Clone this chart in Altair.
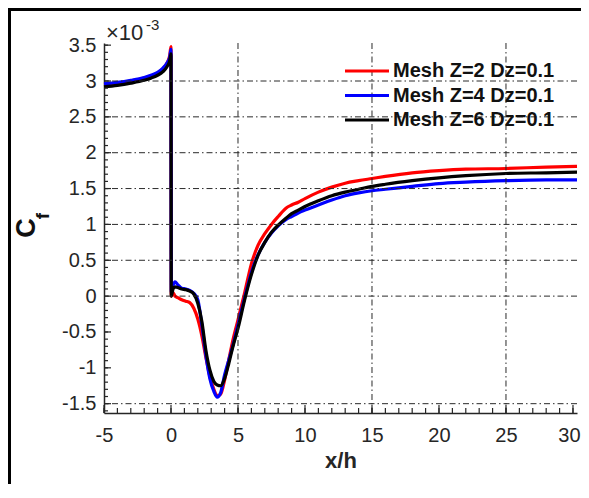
import altair as alt
import pandas as pd
import numpy as np

# ---------------- data (Cf values in units of 1e-3) ----------------
x_pos = [-5, -4, -3, -2, -1.5, -1, -0.6, -0.3, -0.1, 0.0, 0.02, 0.15, 0.3, 0.5, 0.8, 1.1, 1.4, 1.7,
         2.0, 2.3, 2.6, 2.9, 3.2, 3.45, 3.7, 4.0, 4.3, 4.6, 5.0, 5.5, 6.0, 6.5, 7.0, 7.5, 8.0, 8.6,
         9.0, 9.5, 10, 11, 12, 13, 14, 15, 16, 18, 20, 22, 25, 28, 30.3]

cf_z2 = [2.95, 2.97, 3.00, 3.04, 3.07, 3.11, 3.17, 3.25, 3.35, 3.48, 0.00, 0.05, 0.00, -0.02, -0.05,
         -0.07, -0.09, -0.17, -0.32, -0.55, -0.85, -1.12, -1.30, -1.39, -1.37, -1.17, -0.90, -0.63,
         -0.33, 0.05, 0.45, 0.71, 0.87, 1.00, 1.11, 1.23, 1.27, 1.31, 1.36, 1.45, 1.52, 1.575, 1.61,
         1.64, 1.67, 1.72, 1.75, 1.77, 1.78, 1.80, 1.81]

cf_z4 = [2.96, 2.98, 3.01, 3.05, 3.08, 3.12, 3.18, 3.25, 3.33, 3.44, 0.05, 0.15, 0.20, 0.16, 0.11,
         0.10, 0.08, 0.04, -0.05, -0.40, -0.82, -1.15, -1.33, -1.41, -1.35, -1.10, -0.90, -0.70,
         -0.40, -0.02, 0.33, 0.58, 0.75, 0.88, 0.98, 1.07, 1.11, 1.16, 1.20, 1.27, 1.34, 1.40, 1.44,
         1.47, 1.49, 1.53, 1.57, 1.59, 1.61, 1.62, 1.62]

cf_z6 = [2.92, 2.94, 2.97, 3.01, 3.04, 3.08, 3.13, 3.20, 3.28, 3.38, 0.00, 0.10, 0.13, 0.12, 0.10,
         0.09, 0.07, 0.03, -0.10, -0.35, -0.75, -1.03, -1.19, -1.24, -1.25, -1.15, -0.95, -0.72,
         -0.45, -0.05, 0.30, 0.57, 0.75, 0.89, 0.99, 1.09, 1.15, 1.20, 1.25, 1.33, 1.40, 1.45, 1.49,
         1.53, 1.56, 1.61, 1.65, 1.68, 1.71, 1.72, 1.73]

series_names = ["Mesh Z=2 Dz=0.1", "Mesh Z=4 Dz=0.1", "Mesh Z=6 Dz=0.1"]
series_colors = ["#ff0000", "#0000ff", "#000000"]

x_tick_labels = [-5, 0, 5, 10, 15, 20, 25, 30]
y_tick_labels = [-1.5, -1, -0.5, 0, 0.5, 1, 1.5, 2, 2.5, 3, 3.5]
x_minor = list(range(-5, 31))
y_minor = [round(v, 1) for v in np.arange(-1.6, 3.55, 0.1)]
x_grid = [5, 15, 25]
y_grid = [-1.5, 0, 0.5, 1, 1.5, 2, 2.5, 3]

# ---------------- layout ----------------
W, H = 473, 370
FONT = "Liberation Sans"
AX = "#262626"

xs = alt.Scale(domain=[-5, 30.3], nice=False, zero=False)
ys = alt.Scale(domain=[-1.63, 3.53], nice=False, zero=False)

x_axis = alt.Axis(values=x_tick_labels, title="x/h", labelExpr="datum.value + ''",
                  labelFont=FONT, labelFontSize=20, labelColor=AX, labelFlush=False,
                  labelOffset={"condition": {"test": "datum.value == 30", "value": -4}, "value": 0},
                  ticks=False, tickSize=0, labelPadding=12, grid=False,
                  domainColor=AX, domainWidth=1.5,
                  titleFont=FONT, titleFontSize=22, titleFontWeight="bold",
                  titleColor=AX, titlePadding=5)
y_axis = alt.Axis(values=y_tick_labels, title=None, labelExpr="datum.value + ''",
                  labelFont=FONT, labelFontSize=20, labelColor=AX, labelFlush=False,
                  ticks=False, tickSize=0, labelPadding=8, grid=False,
                  domainColor=AX, domainWidth=1.5)

rows = []
for name, vals in zip(series_names, [cf_z2, cf_z4, cf_z6]):
    for i, (xv, yv) in enumerate(zip(x_pos, vals)):
        rows.append({"series": name, "x": xv, "cf": yv, "idx": i})
df = pd.DataFrame(rows)

base = alt.Chart(df)

line_layers = []
for name, col in zip(series_names, series_colors):
    line_layers.append(
        base.transform_filter(alt.datum.series == name)
        .mark_line(color=col, strokeWidth=3.2, interpolate="monotone")
        .encode(x=alt.X("x:Q", scale=xs, axis=x_axis),
                y=alt.Y("cf:Q", scale=ys, axis=y_axis),
                order=alt.Order("idx:Q"))
    )

grid_style = dict(color="#2a2a2a", strokeWidth=1, strokeDash=[6, 3, 1.5, 3])
hgrid = alt.Chart(pd.DataFrame({"cf": y_grid})).mark_rule(**grid_style).encode(
    y=alt.Y("cf:Q", scale=ys, axis=y_axis))
vgrid = alt.Chart(pd.DataFrame({"x": x_grid})).mark_rule(**grid_style).encode(
    x=alt.X("x:Q", scale=xs, axis=x_axis))

ytick_minor = alt.Chart(pd.DataFrame({"cf": y_minor})).mark_rule(color=AX, strokeWidth=1.2).encode(
    y=alt.Y("cf:Q", scale=ys, axis=y_axis), x=alt.value(0), x2=alt.value(4))
ytick_major = alt.Chart(pd.DataFrame({"cf": y_tick_labels})).mark_rule(color=AX, strokeWidth=1.2).encode(
    y=alt.Y("cf:Q", scale=ys, axis=y_axis), x=alt.value(0), x2=alt.value(7))
xtick_minor = alt.Chart(pd.DataFrame({"x": x_minor})).mark_rule(color=AX, strokeWidth=1.2).encode(
    x=alt.X("x:Q", scale=xs, axis=x_axis), y=alt.value(H), y2=alt.value(H - 5))
xtick_major = alt.Chart(pd.DataFrame({"x": x_tick_labels})).mark_rule(color=AX, strokeWidth=1.2).encode(
    x=alt.X("x:Q", scale=xs, axis=x_axis), y=alt.value(H), y2=alt.value(H - 8))

leg_df = pd.DataFrame({"name": series_names, "color": series_colors,
                       "py": [28, 52.5, 77]})
leg_lines = alt.Chart(leg_df).mark_rule(strokeWidth=3).encode(
    y=alt.Y("py:Q", scale=None, axis=None), x=alt.value(241), x2=alt.value(285),
    color=alt.Color("color:N", scale=None, legend=None))
leg_text = alt.Chart(leg_df).mark_text(align="left", baseline="middle", font=FONT,
                                       fontSize=20, fontWeight="bold", color="#111111").encode(
    y=alt.Y("py:Q", scale=None, axis=None), x=alt.value(289), text="name:N")

exp_main = alt.Chart(pd.DataFrame({"t": ["×10"]})).mark_text(
    align="left", baseline="middle", font=FONT, fontSize=22, color=AX).encode(
    x=alt.value(2), y=alt.value(-10), text="t:N")
exp_pow = alt.Chart(pd.DataFrame({"t": ["-3"]})).mark_text(
    align="left", baseline="middle", font=FONT, fontSize=15, color=AX).encode(
    x=alt.value(42), y=alt.value(-18), text="t:N")

ylab_c = alt.Chart(pd.DataFrame({"t": ["C"]})).mark_text(
    align="center", baseline="middle", font=FONT, fontSize=27, fontWeight="bold",
    angle=270, color="#111111").encode(x=alt.value(-77), y=alt.value(185), text="t:N")
ylab_f = alt.Chart(pd.DataFrame({"t": ["f"]})).mark_text(
    align="center", baseline="middle", font=FONT, fontSize=19, fontWeight="bold",
    angle=270, color="#111111").encode(x=alt.value(-61), y=alt.value(173), text="t:N")

border_top = alt.Chart(pd.DataFrame({"a": [0]})).mark_rule(color="black", strokeWidth=3).encode(
    x=alt.value(-96), x2=alt.value(W + 4), y=alt.value(-33.5))
border_left = alt.Chart(pd.DataFrame({"a": [0]})).mark_rule(color="black", strokeWidth=3).encode(
    x=alt.value(-94.5), y=alt.value(-35), y2=alt.value(H + 71))

chart = alt.layer(
    *line_layers, hgrid, vgrid, ytick_minor, ytick_major, xtick_minor, xtick_major,
    leg_lines, leg_text, exp_main, exp_pow, ylab_c, ylab_f, border_top, border_left
).properties(
    width=W, height=H,
    autosize=alt.AutoSizeParams(type="none"),
    padding={"left": 96, "top": 35, "right": 4, "bottom": 71},
    background="white",
).configure_view(stroke=None)

chart.save("out.html", embed_options={"renderer": "svg", "actions": False})
